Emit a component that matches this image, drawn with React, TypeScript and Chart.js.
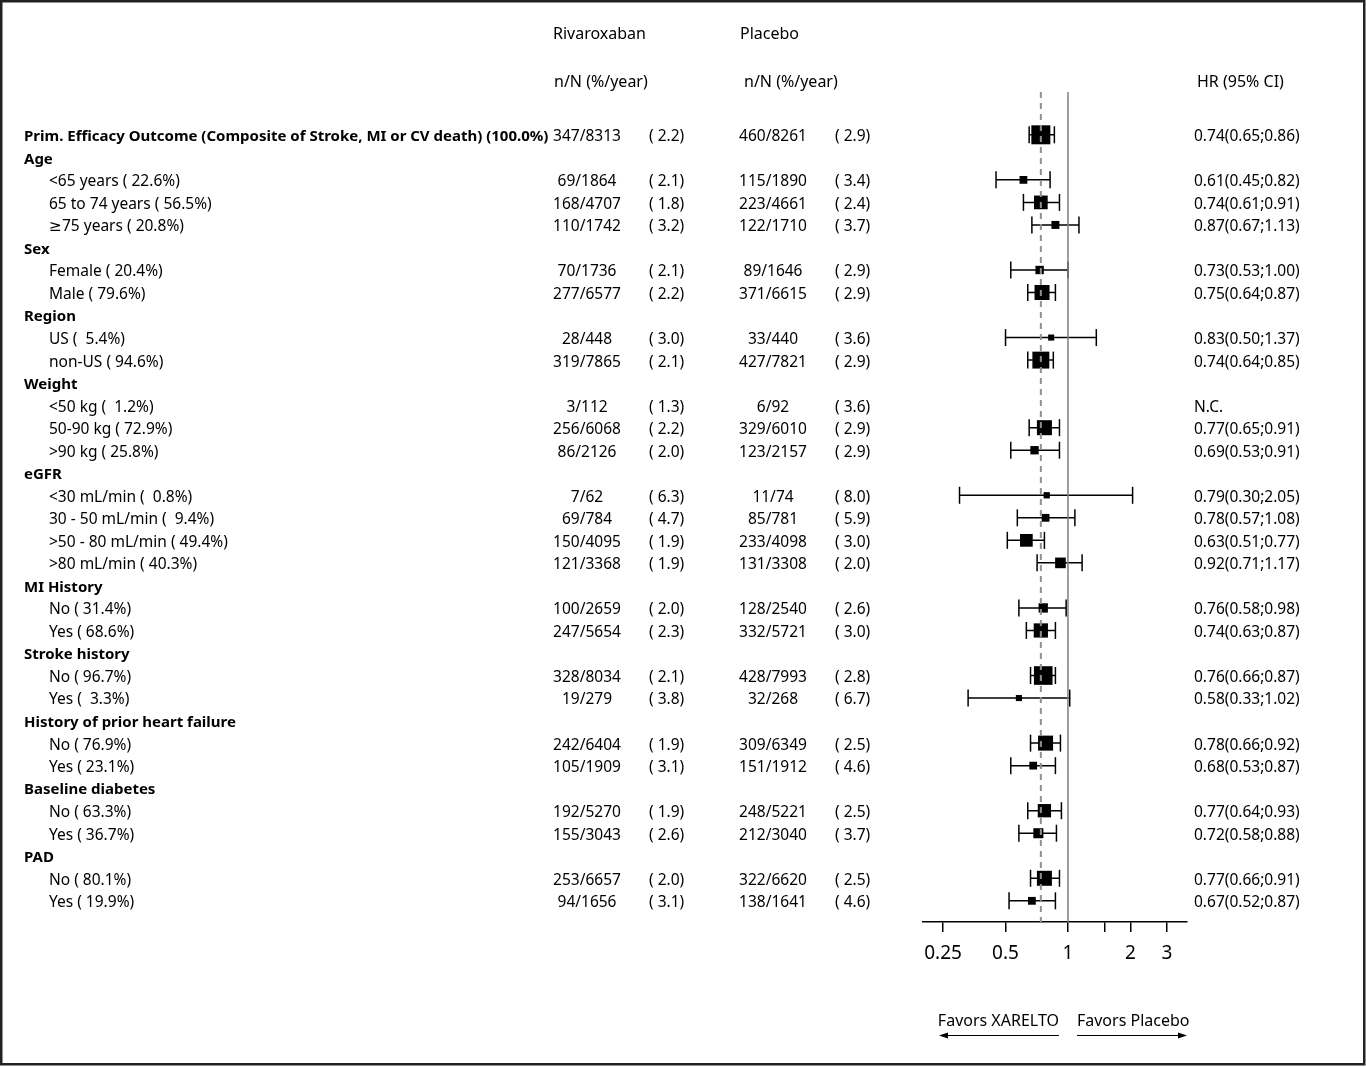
import React, { useEffect, useRef } from "react";
import { Chart, registerables } from "chart.js";

Chart.register(...registerables);

const rowLabels: string[] = [
  "Prim. Efficacy Outcome (Composite of Stroke, MI or CV death) (100.0%)",
  "Age", "<65 years ( 22.6%)", "65 to 74 years ( 56.5%)", "≥75 years ( 20.8%)",
  "Sex", "Female ( 20.4%)", "Male ( 79.6%)",
  "Region", "US (  5.4%)", "non-US ( 94.6%)",
  "Weight", "<50 kg (  1.2%)", "50-90 kg ( 72.9%)", ">90 kg ( 25.8%)",
  "eGFR", "<30 mL/min (  0.8%)", "30 - 50 mL/min (  9.4%)", ">50 - 80 mL/min ( 49.4%)", ">80 mL/min ( 40.3%)",
  "MI History", "No ( 31.4%)", "Yes ( 68.6%)",
  "Stroke history", "No ( 96.7%)", "Yes (  3.3%)",
  "History of prior heart failure", "No ( 76.9%)", "Yes ( 23.1%)",
  "Baseline diabetes", "No ( 63.3%)", "Yes ( 36.7%)",
  "PAD", "No ( 80.1%)", "Yes ( 19.9%)",
];

// o = overall, g = group header, s = subgroup
const rowKind: string[] = [
  "o", "g", "s", "s", "s", "g", "s", "s", "g", "s", "s", "g", "s", "s", "s",
  "g", "s", "s", "s", "s", "g", "s", "s", "g", "s", "s", "g", "s", "s", "g", "s", "s", "g", "s", "s",
];

const rivaN: string[] = [
  "347/8313", "", "69/1864", "168/4707", "110/1742", "", "70/1736", "277/6577", "", "28/448", "319/7865",
  "", "3/112", "256/6068", "86/2126", "", "7/62", "69/784", "150/4095", "121/3368", "", "100/2659", "247/5654",
  "", "328/8034", "19/279", "", "242/6404", "105/1909", "", "192/5270", "155/3043", "", "253/6657", "94/1656",
];
const rivaRate: (number | null)[] = [
  2.2, null, 2.1, 1.8, 3.2, null, 2.1, 2.2, null, 3.0, 2.1, null, 1.3, 2.2, 2.0, null, 6.3, 4.7, 1.9, 1.9,
  null, 2.0, 2.3, null, 2.1, 3.8, null, 1.9, 3.1, null, 1.9, 2.6, null, 2.0, 3.1,
];
const plaN: string[] = [
  "460/8261", "", "115/1890", "223/4661", "122/1710", "", "89/1646", "371/6615", "", "33/440", "427/7821",
  "", "6/92", "329/6010", "123/2157", "", "11/74", "85/781", "233/4098", "131/3308", "", "128/2540", "332/5721",
  "", "428/7993", "32/268", "", "309/6349", "151/1912", "", "248/5221", "212/3040", "", "322/6620", "138/1641",
];
const plaRate: (number | null)[] = [
  2.9, null, 3.4, 2.4, 3.7, null, 2.9, 2.9, null, 3.6, 2.9, null, 3.6, 2.9, 2.9, null, 8.0, 5.9, 3.0, 2.0,
  null, 2.6, 3.0, null, 2.8, 6.7, null, 2.5, 4.6, null, 2.5, 3.7, null, 2.5, 4.6,
];
const hr: (number | null)[] = [
  0.74, null, 0.61, 0.74, 0.87, null, 0.73, 0.75, null, 0.83, 0.74, null, null, 0.77, 0.69, null, 0.79, 0.78, 0.63, 0.92,
  null, 0.76, 0.74, null, 0.76, 0.58, null, 0.78, 0.68, null, 0.77, 0.72, null, 0.77, 0.67,
];
const ciLow: (number | null)[] = [
  0.65, null, 0.45, 0.61, 0.67, null, 0.53, 0.64, null, 0.50, 0.64, null, null, 0.65, 0.53, null, 0.30, 0.57, 0.51, 0.71,
  null, 0.58, 0.63, null, 0.66, 0.33, null, 0.66, 0.53, null, 0.64, 0.58, null, 0.66, 0.52,
];
const ciHigh: (number | null)[] = [
  0.86, null, 0.82, 0.91, 1.13, null, 1.00, 0.87, null, 1.37, 0.85, null, null, 0.91, 0.91, null, 2.05, 1.08, 0.77, 1.17,
  null, 0.98, 0.87, null, 0.87, 1.02, null, 0.92, 0.87, null, 0.93, 0.88, null, 0.91, 0.87,
];
// relative box weight (overall = 100)
const boxWeight: (number | null)[] = [
  100, null, 41, 72, 42, null, 44, 79, null, 32, 89, null, null, 79, 44, null, 33, 41, 67, 56,
  null, 49, 75, null, 98, 32, null, 79, 41, null, 70, 53, null, 79, 41,
];

const tickValues: number[] = [0.25, 0.5, 1, 1.5, 2, 3];
const tickLabels: string[] = ["0.25", "0.5", "1", "", "2", "3"];

const FONT = '"Noto Sans", "DejaVu Sans", sans-serif';
const Y_MIN = -1.9;
const Y_MAX = 34.94;
const TY = 2; // text baseline nudge

const fmtRate = (r: number | null) => (r === null ? "" : `( ${r.toFixed(1)})`);

export default function App() {
  const ref = useRef<HTMLCanvasElement | null>(null);

  useEffect(() => {
    let chart: Chart | null = null;
    let cancelled = false;
    document.body.style.margin = "0";

    const build = () => {
      if (cancelled || !ref.current) return;

      const boxes: any[] = [];
      const boxSides: number[] = [];
      const ci: any[] = [];
      hr.forEach((v, i) => {
        if (v === null) return;
        boxes.push({ x: v, y: i });
        boxSides.push(((boxWeight[i] ?? 0) / 100) * 19);
        ci.push({ x: ciLow[i], y: i });
        ci.push({ x: ciHigh[i], y: i });
        ci.push({ x: ciHigh[i], y: null });
      });
      const overall = hr[0] as number;

      const textPlugin = {
        id: "forestText",
        afterDraw(c: any) {
          const ctx = c.ctx as CanvasRenderingContext2D;
          const y = c.scales.y;
          const x = c.scales.x;
          ctx.save();
          ctx.fillStyle = "#000";
          ctx.textBaseline = "middle";
          // headers
          ctx.font = `16px ${FONT}`;
          ctx.textAlign = "left";
          ctx.fillText("Rivaroxaban", 553, 32 + TY);
          ctx.fillText("Placebo", 740, 32 + TY);
          ctx.fillText("n/N (%/year)", 554, 80 + TY);
          ctx.fillText("n/N (%/year)", 744, 80 + TY);
          ctx.fillText("HR (95% CI)", 1197, 80 + TY);

          rowLabels.forEach((lab, i) => {
            const py = y.getPixelForValue(i) + TY;
            const kind = rowKind[i];
            ctx.font = kind === "s" ? `15.5px ${FONT}` : `bold 15px ${FONT}`;
            ctx.textAlign = "left";
            ctx.fillText(lab, kind === "s" ? 49 : 24, py);
            if (kind === "g") return;
            ctx.font = `15.5px ${FONT}`;
            ctx.textAlign = "center";
            ctx.fillText(rivaN[i], 587, py);
            ctx.fillText(plaN[i], 773, py);
            ctx.textAlign = "left";
            ctx.fillText(fmtRate(rivaRate[i]), 649, py);
            ctx.fillText(fmtRate(plaRate[i]), 835, py);
            const h = hr[i];
            const t =
              h === null
                ? "N.C."
                : `${h.toFixed(2)}(${(ciLow[i] as number).toFixed(2)};${(ciHigh[i] as number).toFixed(2)})`;
            ctx.fillText(t, 1194, py);
          });

          // favors arrows
          const p1 = x.getPixelForValue(1);
          const right = c.chartArea.right;
          const left = c.chartArea.left;
          ctx.font = `16px ${FONT}`;
          ctx.textAlign = "right";
          ctx.fillText("Favors XARELTO", p1 - 9, 1019 + TY);
          ctx.textAlign = "left";
          ctx.fillText("Favors Placebo", p1 + 9, 1019 + TY);
          ctx.strokeStyle = "#000";
          ctx.lineWidth = 1.2;
          const ay = 1035.5;
          ctx.beginPath();
          ctx.moveTo(p1 - 9, ay);
          ctx.lineTo(left + 18, ay);
          ctx.moveTo(p1 + 9, ay);
          ctx.lineTo(right - 2, ay);
          ctx.stroke();
          ctx.beginPath();
          ctx.moveTo(left + 16, ay);
          ctx.lineTo(left + 25, ay - 3);
          ctx.lineTo(left + 25, ay + 3);
          ctx.closePath();
          ctx.moveTo(right, ay);
          ctx.lineTo(right - 9, ay - 3);
          ctx.lineTo(right - 9, ay + 3);
          ctx.closePath();
          ctx.fill();

          // frame
          ctx.lineWidth = 2.5;
          ctx.strokeStyle = "#222";
          ctx.strokeRect(1.25, 1.25, c.width - 3, c.height - 4);
          ctx.restore();
        },
      };

      chart = new Chart(ref.current, {
        type: "scatter",
        data: {
          datasets: [
            {
              data: [
                { x: 1, y: Y_MIN },
                { x: 1, y: Y_MAX },
              ],
              showLine: true,
              borderColor: "#7f7f7f",
              borderWidth: 1.5,
              pointRadius: 0,
              order: 0,
            } as any,
            {
              data: [
                { x: overall, y: Y_MIN },
                { x: overall, y: Y_MAX },
              ],
              showLine: true,
              borderColor: "#8f8f8f",
              borderWidth: 2,
              borderDash: [6, 5],
              pointRadius: 0,
              order: 0,
            } as any,
            {
              data: boxes,
              pointStyle: "rect",
              backgroundColor: "#000",
              borderWidth: 0,
              pointRadius: (ctx: any) => (boxSides[ctx.dataIndex] ?? 0) / (2 * Math.SQRT1_2),
              order: 1,
            } as any,
            {
              data: ci,
              showLine: true,
              spanGaps: false,
              borderColor: "#000",
              borderWidth: 1.5,
              pointStyle: "line",
              rotation: 90,
              pointRadius: 8.5,
              pointBorderWidth: 1.5,
              pointBorderColor: "#000",
              order: 2,
            } as any,
          ],
        },
        options: {
          animation: false,
          responsive: true,
          maintainAspectRatio: false,
          events: [],
          layout: { padding: { left: 923, right: 179, top: 92, bottom: 85 } },
          plugins: { legend: { display: false }, tooltip: { enabled: false } },
          scales: {
            x: {
              type: "logarithmic",
              min: 0.2,
              max: 3.75,
              afterBuildTicks: (s: any) => {
                s.ticks = tickValues.map((v) => ({ value: v }));
              },
              afterFit: (s: any) => {
                s.height = 60;
              },
              ticks: {
                autoSkip: false,
                maxRotation: 0,
                padding: 10,
                color: "#000",
                font: { family: FONT, size: 19 },
                callback: (_v: any, idx: number) => tickLabels[idx],
              },
              grid: {
                display: true,
                drawOnChartArea: false,
                drawTicks: true,
                tickLength: 10,
                color: "#000",
                lineWidth: 1.5,
              },
              border: { display: true, color: "#000", width: 1.5 },
            },
            y: {
              type: "linear",
              min: Y_MIN,
              max: Y_MAX,
              reverse: true,
              display: false,
            },
          },
        } as any,
        plugins: [textPlugin],
      });
    };

    const fontsApi: any = (document as any).fonts;
    if (fontsApi && fontsApi.load) {
      Promise.all([
        fontsApi.load(`15px "Noto Sans"`),
        fontsApi.load(`bold 15px "Noto Sans"`),
      ])
        .catch(() => null)
        .then(build);
    } else {
      build();
    }

    return () => {
      cancelled = true;
      if (chart) chart.destroy();
    };
  }, []);

  return (
    <div style={{ position: "absolute", left: 0, top: 0, width: 1366, height: 1067, background: "#fff" }}>
      <canvas ref={ref} />
    </div>
  );
}
